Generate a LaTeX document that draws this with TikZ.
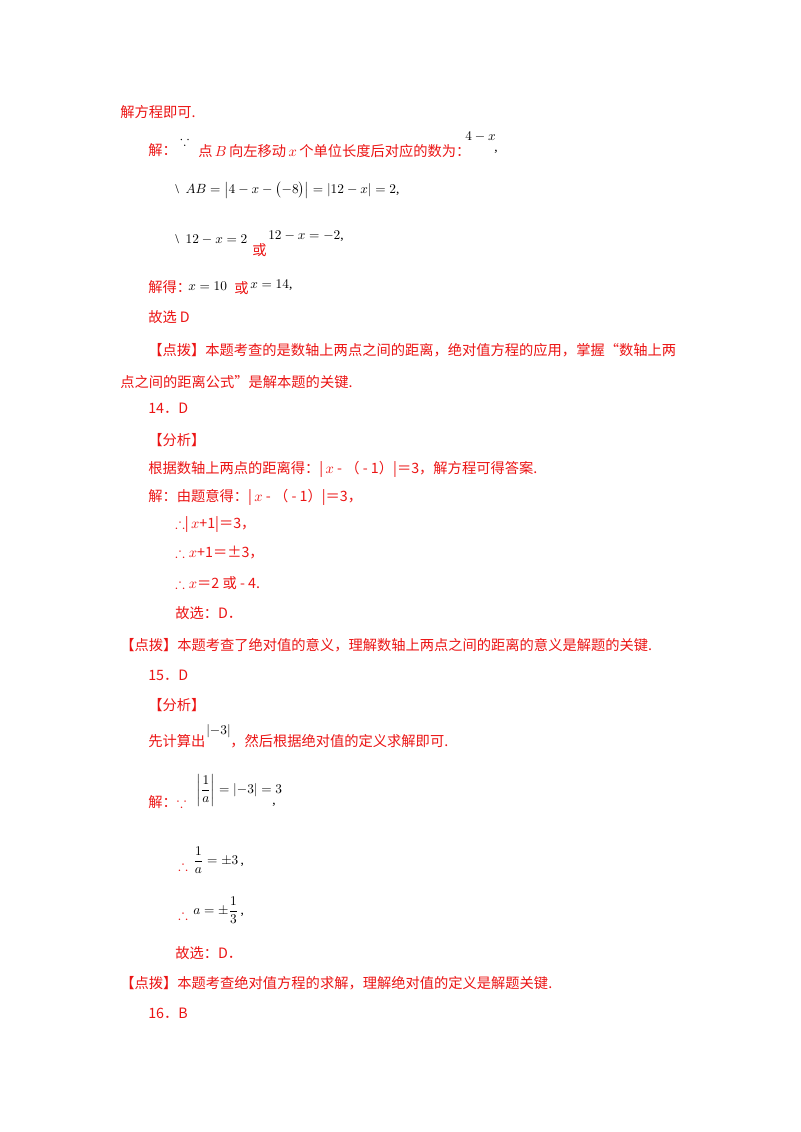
\documentclass[tikz,border=0pt]{standalone}
\usepackage{amsmath,amssymb}
\usepackage{fontspec}
\setmainfont{Noto Sans CJK SC}
\newfontfamily\lat{Liberation Serif}
\definecolor{rd}{RGB}{235,20,20}
\begin{document}
\begin{tikzpicture}[x=0.75pt,y=-0.75pt,
  t/.style={anchor=west,inner sep=0pt,text=rd,font=\fontsize{10.7pt}{12pt}\selectfont},
  k/.style={anchor=west,inner sep=0pt,text=black,font=\fontsize{10pt}{12pt}\lat}]
\useasboundingbox (0,0) rectangle (800,1132);
\node[t] (l1) at (120,112) {解方程即可.};
\node[t] (l2) at (148,150) {解：};
\node[k] (l2b) at (180,141) {$\because$};
\node[t] (l2c) at (198,151) {点\,$B$\,向左移动\,$x$\,个单位长度后对应的数为：};
\node[k] (l2d) at (465,137) {$4-x$};
\node[k] (l2e) at (494,152) {,};
\node[k] (l3) at (175,190) {\textbackslash\ \ $AB=\bigl|4-x-\bigl(-8\bigr)\bigr|=|12-x|=2$,};
\node[k] (l4) at (175,240) {\textbackslash\ \ $12-x=2$};
\node[t] (l4b) at (252,250) {或};
\node[k] (l4c) at (268,236) {$12-x=-2$,};
\node[t] (l5) at (148,287) {解得：};
\node[k] (l5b) at (188,286) {$x=10$};
\node[t] (l5c) at (234,288) {或};
\node[k] (l5d) at (250,285) {$x=14$,};
\node[t] (l6) at (148,317) {故选 D};
\node[t] (l7) at (120,350) {\hspace*{28\dimexpr0.75pt\relax}【点拨】本题考查的是数轴上两点之间的距离，绝对值方程的应用，掌握“数轴上两};
\node[t] (l8) at (120,382) {点之间的距离公式”是解本题的关键.};
\node[t] (l9) at (148,408) {14．D};
\node[t] (l10) at (148,440) {【分析】};
\node[t] (l11) at (148,469) {根据数轴上两点的距离得：|\,$x$ - （ - 1）|＝3，解方程可得答案.};
\node[t] (l12) at (148,497) {解：由题意得：|\,$x$ - （ - 1）|＝3，};
\node[t] (l13) at (175,525) {$\therefore$|\,$x$+1|＝3，};
\node[t] (l14) at (175,553) {$\therefore x$+1＝±3，};
\node[t] (l15) at (175,583) {$\therefore x$＝2 或 - 4.};
\node[t] (l16) at (175,613) {故选：D．};
\node[t] (l17) at (120,645) {【点拨】本题考查了绝对值的意义，理解数轴上两点之间的距离的意义是解题的关键.};
\node[t] (l18) at (148,675) {15．D};
\node[t] (l19) at (148,705) {【分析】};
\node[t] (l20) at (148,741) {先计算出};
\node[k] (l20b) at (206,731) {$|{-3}|$};
\node[t] (l20c) at (230,741) {，然后根据绝对值的定义求解即可.};
\node[t] (l21) at (148,802) {解：$\because$};
\node[k] (l21b) at (196,790) {$\left|\dfrac{1}{a}\right|=|{-3}|=3$};
\node[k] (l21c) at (272,805) {,};
\node[t] (l22) at (178,866) {$\therefore$};
\node[k] (l22b) at (193,860) {$\dfrac{1}{a}=\pm3$\,,};
\node[t] (l23) at (178,915) {$\therefore$};
\node[k] (l23b) at (193,910) {$a=\pm\dfrac{1}{3}$\,,};
\node[t] (l24) at (175,953) {故选：D．};
\node[t] (l25) at (120,983) {【点拨】本题考查绝对值方程的求解，理解绝对值的定义是解题关键.};
\node[t] (l26) at (148,1013) {16．B};
\end{tikzpicture}
\end{document}
